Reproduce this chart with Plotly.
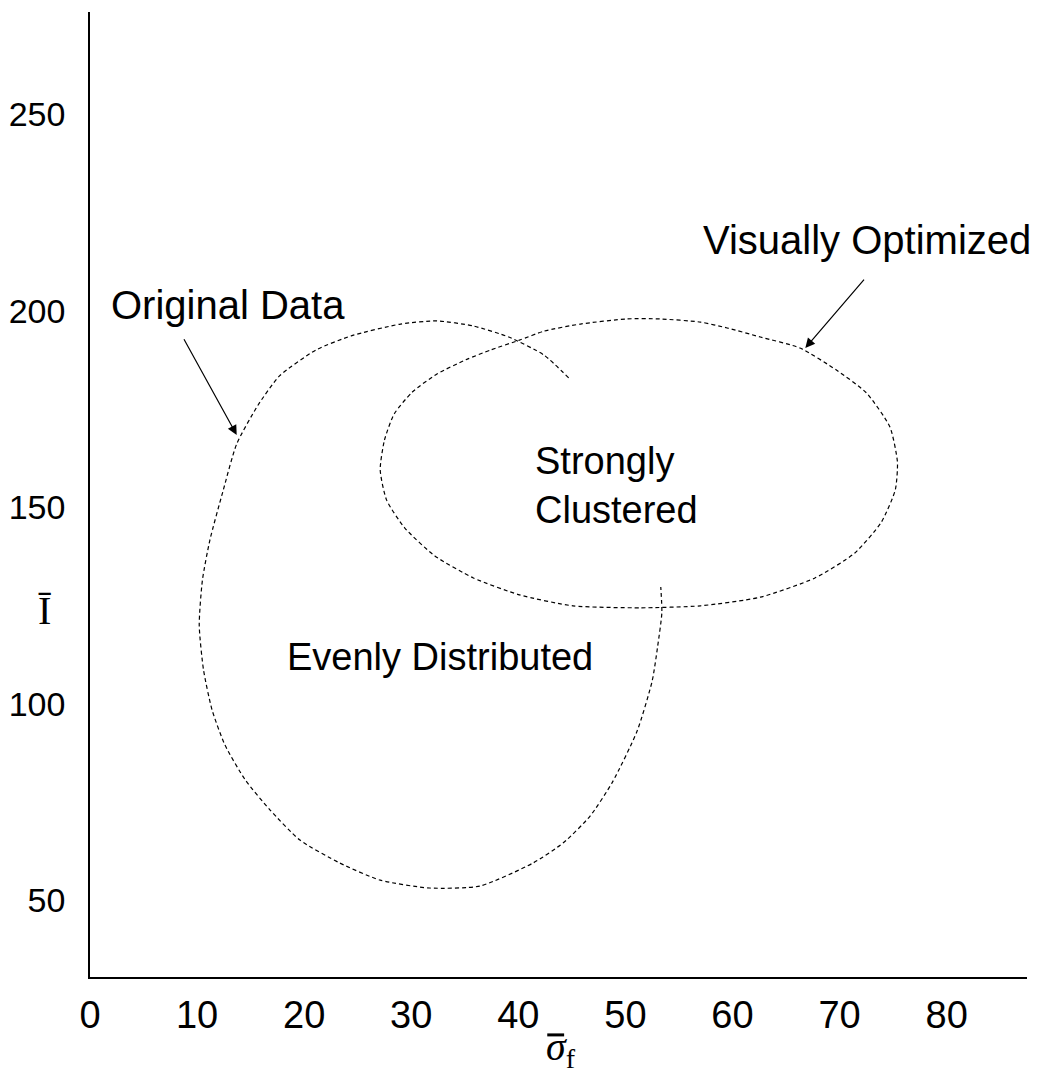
import plotly.graph_objects as go

# ---- data ----
x_tick_values = [0, 10, 20, 30, 40, 50, 60, 70, 80]
y_tick_values = [50, 100, 150, 200, 250]

original_x = [44.7, 42.4, 39.1, 35.8, 32.4, 29.0, 24.4, 21.1, 17.7, 15.7, 13.7, 12.4,
              11.2, 10.5, 10.2, 10.6, 11.4, 12.6, 14.5, 16.8, 19.6, 23.3, 27.1, 31.7,
              36.4, 41.4, 44.2, 46.7, 48.8, 51.1, 52.5, 53.0, 53.4, 53.3]
original_y = [182.9, 188.7, 193.3, 196.1, 197.4, 196.6, 193.6, 190.0, 183.4, 176.0, 166.1, 153.9,
              141.7, 131.5, 120.0, 108.6, 98.4, 89.5, 80.6, 73.0, 65.3, 59.5, 55.1, 53.1,
              53.6, 59.5, 64.6, 71.4, 80.1, 93.1, 105.8, 114.4, 123.1, 129.7]

optimized_x = [27.1, 27.5, 28.4, 30.1, 32.4, 35.1, 37.4, 40.1, 42.4, 45.8, 50.1, 53.2,
               57.0, 59.5, 62.6, 66.3, 69.7, 72.5, 74.7, 75.4, 75.2, 73.9, 71.4, 67.7,
               62.6, 57.0, 51.4, 45.1, 40.1, 35.8, 32.2, 29.4, 27.7, 27.1]
optimized_y = [159.5, 167.1, 173.7, 179.3, 183.9, 187.5, 190.0, 192.5, 194.8, 196.6, 197.9, 197.9,
               197.1, 195.6, 193.3, 190.5, 184.9, 179.1, 170.4, 161.5, 154.4, 146.2, 138.3, 132.0,
               127.1, 124.9, 124.4, 124.9, 127.7, 132.0, 137.6, 144.7, 151.8, 159.5]

FONT = "Liberation Sans, Arial, sans-serif"
SERIF = "Liberation Serif, Times New Roman, serif"

fig = go.Figure()
line_style = dict(color="black", width=1.2, dash="4px,3px", shape="spline", smoothing=0.6)
fig.add_trace(go.Scatter(x=original_x, y=original_y, mode="lines", line=line_style,
                         name="Original Data", hoverinfo="skip"))
fig.add_trace(go.Scatter(x=optimized_x, y=optimized_y, mode="lines", line=line_style,
                         name="Visually Optimized", hoverinfo="skip"))

annotations = [
    dict(x=13.7, y=168.4, ax=8.7, ay=193.1, axref="x", ayref="y", xref="x", yref="y",
         text="", showarrow=True, arrowhead=2, arrowsize=1.6, arrowwidth=1.2, arrowcolor="black"),
    dict(x=12.9, y=201.5, xref="x", yref="y", text="Original Data", showarrow=False,
         font=dict(family=FONT, size=40, color="black")),
    dict(x=66.8, y=190.5, ax=72.4, ay=208.3, axref="x", ayref="y", xref="x", yref="y",
         text="", showarrow=True, arrowhead=2, arrowsize=1.6, arrowwidth=1.2, arrowcolor="black"),
    dict(x=72.6, y=218.0, xref="x", yref="y", text="Visually Optimized", showarrow=False,
         font=dict(family=FONT, size=40, color="black")),
    dict(x=41.4, y=155.6, xref="x", yref="y", text="Strongly<br>Clustered", showarrow=False,
         xanchor="left", align="left", font=dict(family=FONT, size=38, color="black")),
    dict(x=32.7, y=111.9, xref="x", yref="y", text="Evenly Distributed", showarrow=False,
         font=dict(family=FONT, size=38, color="black")),
    dict(x=0.503, y=-0.103, xref="paper", yref="paper", text="<i>σ</i><sub>f</sub>",
         showarrow=False, font=dict(family=SERIF, size=40, color="black")),
    dict(x=-0.058, y=0.38, xref="paper", yref="paper", text="Ī",
         showarrow=False, font=dict(family=SERIF, size=40, color="black")),
]

shapes = [
    # overbar of the sigma in the x-axis title
    dict(type="line", xref="paper", yref="paper", x0=0.488, x1=0.506, y0=-0.060, y1=-0.060,
         line=dict(color="black", width=3)),
]

# the page body adds an 8px margin, so the figure is 8px smaller and margins shifted
fig.update_layout(
    width=1032, height=1070,
    margin=dict(l=82, r=13, t=4, b=101),
    paper_bgcolor="white", plot_bgcolor="white",
    showlegend=False,
    annotations=annotations,
    shapes=shapes,
    xaxis=dict(range=[0, 87.5], tickvals=x_tick_values, ticktext=[str(v) for v in x_tick_values],
               showgrid=False, zeroline=False, showline=True, linecolor="black", linewidth=1.5,
               ticks="outside", ticklen=4, tickcolor="rgba(0,0,0,0)", automargin=False,
               tickfont=dict(family=FONT, size=38, color="black")),
    yaxis=dict(range=[30.46, 276.0], tickvals=y_tick_values, ticktext=[str(v) for v in y_tick_values],
               showgrid=False, zeroline=False, showline=True, linecolor="black", linewidth=1.5,
               ticks="outside", ticklen=16, tickcolor="rgba(0,0,0,0)", automargin=False,
               tickfont=dict(family=FONT, size=34, color="black")),
)

fig.write_html("out.html")
